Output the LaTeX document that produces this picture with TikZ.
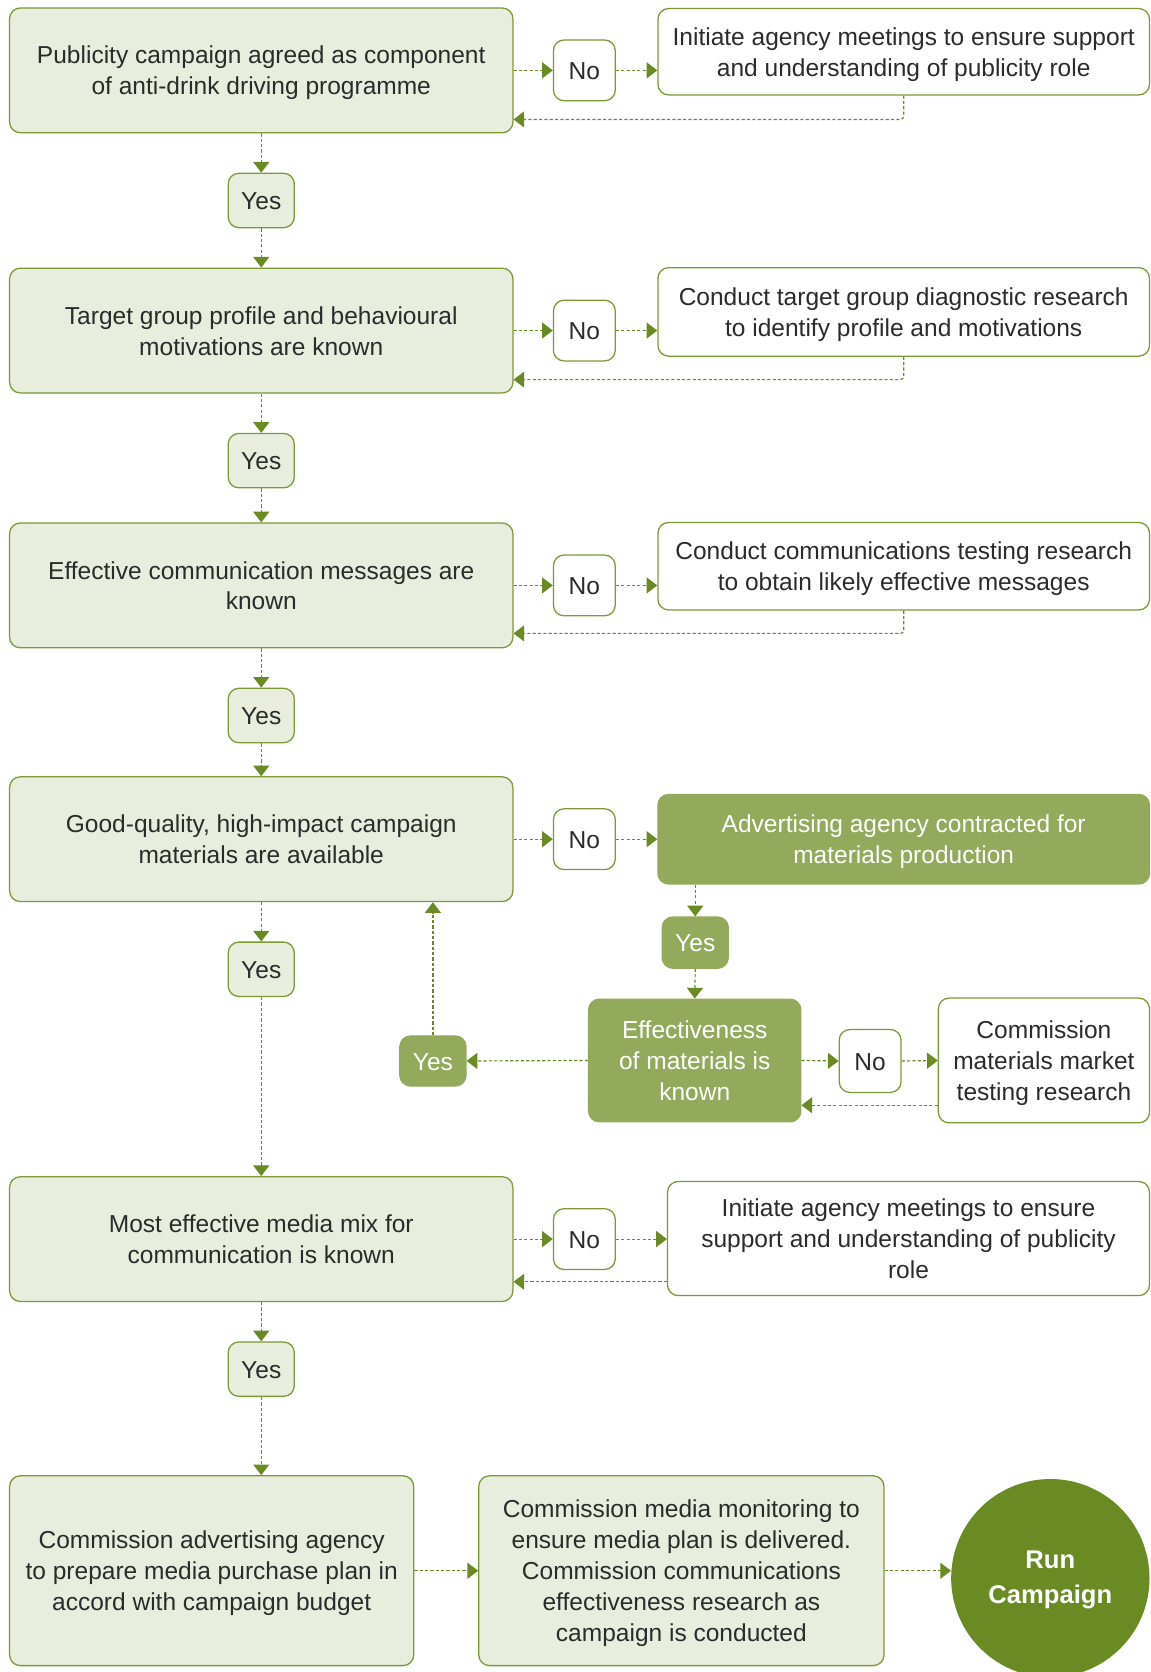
\documentclass[tikz,border=0pt]{standalone}
\usepackage{fontspec}
\setmainfont{Liberation Sans}
\usetikzlibrary{arrows.meta}
\definecolor{boxfill}{HTML}{E9EDDE}
\definecolor{boxline}{HTML}{7A9A35}
\definecolor{midgreen}{HTML}{93A95B}
\definecolor{darkgreen}{HTML}{6A8A23}
\definecolor{txt}{HTML}{2B2B2B}
\tikzset{
 base/.style={rounded corners=10pt, draw=boxline, line width=1.2pt, align=center, text=txt,
   font=\fontsize{23}{29}\selectfont, inner sep=0pt, text height=23.5pt, text depth=6.5pt},
 ltwo/.style={text height=52.5pt},
 lthree/.style={text height=81.5pt},
 lfive/.style={text height=139.5pt},
 qbox/.style={base, ltwo, fill=boxfill, minimum width=472pt, minimum height=117pt},
 actbox/.style={base, ltwo, fill=white},
 greenbox/.style={base, ltwo, fill=midgreen, draw=midgreen, text=white},
 yesbox/.style={base, fill=boxfill, minimum width=62pt, minimum height=51pt},
 gyes/.style={base, fill=midgreen, draw=midgreen, text=white, minimum width=62pt, minimum height=48pt},
 nobox/.style={base, fill=white, minimum width=58pt, minimum height=57pt},
 flow/.style={draw=darkgreen, line width=1.1pt, dash pattern=on 3pt off 2pt,
   -{Triangle[length=10pt,width=15pt]}},
}
\begin{document}
\begin{tikzpicture}[x=1pt,y=-1pt]
\useasboundingbox (0,0) rectangle (1079,1568);
% left column
\node[qbox] (a1) at (245,66) {Publicity campaign agreed as component\\of anti-drink driving programme};
\node[yesbox] (y1) at (245,188) {Yes};
\node[qbox] (a2) at (245,310) {Target group profile and behavioural\\motivations are known};
\node[yesbox] (y2) at (245,432) {Yes};
\node[qbox] (a3) at (245,549) {Effective communication messages are\\known};
\node[yesbox] (y3) at (245,671) {Yes};
\node[qbox] (a4) at (245,787) {Good-quality, high-impact campaign\\materials are available};
\node[yesbox] (y4) at (245,909) {Yes};
\node[qbox] (a5) at (245,1162) {Most effective media mix for\\communication is known};
\node[yesbox] (y5) at (245,1284) {Yes};
% No nodes
\node[nobox] (n1) at (548,66) {No};
\node[nobox] (n2) at (548,310) {No};
\node[nobox] (n3) at (548,549) {No};
\node[nobox] (n4) at (548,787) {No};
\node[nobox] (n5) at (548,1162) {No};
% right boxes
\node[actbox, minimum width=461pt, minimum height=81pt] (r1) at (847.5,48.5) {Initiate agency meetings to ensure support\\and understanding of publicity role};
\node[actbox, minimum width=461pt, minimum height=83pt] (r2) at (847.5,292.5) {Conduct target group diagnostic research\\to identify profile and motivations};
\node[actbox, minimum width=461pt, minimum height=82pt] (r3) at (847.5,531) {Conduct communications testing research\\to obtain likely effective messages};
\node[greenbox, minimum width=461pt, minimum height=84pt] (r4) at (847.5,787) {Advertising agency contracted for\\materials production};
\node[actbox, lthree, minimum width=452pt, minimum height=107pt] (r5) at (852,1161.5) {Initiate agency meetings to ensure\\support and understanding of publicity\\role};
% middle part
\node[gyes] (g1) at (652,884) {Yes};
\node[greenbox, lthree, minimum width=199pt, minimum height=115pt] (eff) at (651.5,994.5) {Effectiveness\\of materials is\\known};
\node[gyes, minimum height=47pt] (g2) at (406,995) {Yes};
\node[nobox, minimum height=59pt] (n6) at (816,995) {No};
\node[actbox, lthree, minimum width=198pt, minimum height=117pt] (comm) at (979,994.5) {Commission\\materials market\\testing research};
% bottom
\node[qbox, lthree, minimum width=379pt, minimum height=178pt] (b1) at (198.5,1473) {Commission advertising agency\\to prepare media purchase plan in\\accord with campaign budget};
\node[qbox, lfive, minimum width=380pt, minimum height=178pt] (b2) at (639,1473) {Commission media monitoring to\\ensure media plan is delivered.\\Commission communications\\effectiveness research as\\campaign is conducted};
\node[circle, fill=darkgreen, minimum size=186pt, inner sep=0pt, align=center, text=white,
  text height=53pt, text depth=6pt,
  font=\fontsize{24}{33}\selectfont\bfseries] (run) at (985,1480) {Run\\Campaign};
% yes arrows
\draw[flow] (a1.south) -- (y1.north);
\draw[flow] (y1.south) -- (a2.north);
\draw[flow] (a2.south) -- (y2.north);
\draw[flow] (y2.south) -- (a3.north);
\draw[flow] (a3.south) -- (y3.north);
\draw[flow] (y3.south) -- (a4.north);
\draw[flow] (a4.south) -- (y4.north);
\draw[flow] (y4.south) -- (a5.north);
\draw[flow] (a5.south) -- (y5.north);
\draw[flow] (y5.south) -- (y5.south |- b1.north);
% no arrows
\foreach \q/\n in {a1/n1,a2/n2,a3/n3,a4/n4,a5/n5}{\draw[flow] (\q.east) -- (\n.west);}
\draw[flow] (n1.east) -- (n1.east -| r1.west);
\draw[flow] (n2.east) -- (n2.east -| r2.west);
\draw[flow] (n3.east) -- (n3.east -| r3.west);
\draw[flow] (n4.east) -- (r4.west);
\draw[flow] (n5.east) -- (n5.east -| r5.west);
% return arrows
\draw[flow, rounded corners=3pt] (r1.south) |- ([yshift=-46pt]a1.east);
\draw[flow, rounded corners=3pt] (r2.south) |- ([yshift=-46pt]a2.east);
\draw[flow, rounded corners=3pt] (r3.south) |- ([yshift=-45pt]a3.east);
\draw[flow] ([yshift=-40pt]a5.east -| r5.west) -- ([yshift=-40pt]a5.east);
% middle arrows
\draw[flow] (g1.north |- r4.south) -- (g1.north);
\draw[flow] (g1.south) -- (eff.north);
\draw[flow] (eff.west) -- (g2.east);
\draw[flow] (g2.north) -- (g2.north |- a4.south);
\draw[flow] (eff.east) -- (n6.west);
\draw[flow] (n6.east) -- (comm.west);
\draw[flow] ([yshift=-42pt]comm.west) -- ([yshift=-42pt]comm.west -| eff.east);
% bottom arrows
\draw[flow] (b1.east) -- (b2.west);
\draw[flow] (b2.east) -- (b2.east -| run.west);
\end{tikzpicture}
\end{document}
